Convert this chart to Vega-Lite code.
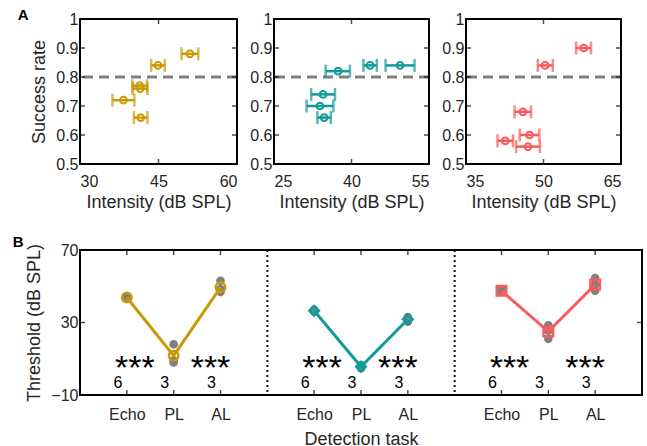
{
  "$schema": "https://vega.github.io/schema/vega-lite/v6.json",
  "padding": {"left": 12, "top": 8, "right": 2, "bottom": 2},
  "config": {
    "font": "Liberation Sans",
    "view": {"stroke": null},
    "axis": {
      "domain": false, "grid": false, "ticks": false,
      "labelFont": "Liberation Sans", "labelFontSize": 16, "labelColor": "#262626", "labelPadding": 2,
      "titleFont": "Liberation Sans", "titleFontSize": 18, "titleFontWeight": "normal", "titleColor": "#262626"
    },
    "tick": {"color": "#000", "thickness": 1.5},
    "title": {"font": "Liberation Sans", "fontSize": 15, "fontWeight": "bold", "color": "#000", "anchor": "start", "frame": "bounds"}
  },
  "datasets": {
    "gold": [
      {"int": 51, "lo": 49.4, "hi": 52.6, "rate": 0.88},
      {"int": 44.9, "lo": 43.6, "hi": 46.2, "rate": 0.84},
      {"int": 41.4, "lo": 40, "hi": 42.8, "rate": 0.77},
      {"int": 41.5, "lo": 40.1, "hi": 42.9, "rate": 0.76},
      {"int": 38.3, "lo": 36.2, "hi": 40.4, "rate": 0.72},
      {"int": 41.6, "lo": 40.3, "hi": 42.9, "rate": 0.66}
    ],
    "teal": [
      {"int": 49.4, "lo": 46.6, "hi": 52.2, "rate": 0.84},
      {"int": 43.6, "lo": 42.3, "hi": 44.9, "rate": 0.84},
      {"int": 37.4, "lo": 35, "hi": 39.7, "rate": 0.82},
      {"int": 34.5, "lo": 32.2, "hi": 36.8, "rate": 0.74},
      {"int": 33.9, "lo": 31.3, "hi": 36.5, "rate": 0.70},
      {"int": 34.7, "lo": 33.4, "hi": 36, "rate": 0.66}
    ],
    "red": [
      {"int": 57.8, "lo": 56.3, "hi": 59.2, "rate": 0.90},
      {"int": 50.3, "lo": 48.9, "hi": 51.8, "rate": 0.84},
      {"int": 46, "lo": 44.4, "hi": 47.6, "rate": 0.68},
      {"int": 47.3, "lo": 45.4, "hi": 49.2, "rate": 0.60},
      {"int": 42.6, "lo": 41.1, "hi": 44.1, "rate": 0.58},
      {"int": 47, "lo": 44.7, "hi": 49.3, "rate": 0.56}
    ],
    "rateTicks": [{"t": 0.6}, {"t": 0.7}, {"t": 0.8}, {"t": 0.9}],
    "means": [
      {"group": "g1", "slot": "Echo|1", "value": 43.8},
      {"group": "g1", "slot": "PL|1", "value": 11.7},
      {"group": "g1", "slot": "AL|1", "value": 49.4},
      {"group": "g2", "slot": "Echo|2", "value": 36.5},
      {"group": "g2", "slot": "PL|2", "value": 5.6},
      {"group": "g2", "slot": "AL|2", "value": 31.8},
      {"group": "g3", "slot": "Echo|3", "value": 47.5},
      {"group": "g3", "slot": "PL|3", "value": 25},
      {"group": "g3", "slot": "AL|3", "value": 51}
    ],
    "indiv": [
      {"slot": "Echo|1", "value": 43.5}, {"slot": "Echo|1", "value": 44}, {"slot": "Echo|1", "value": 44.2},
      {"slot": "Echo|1", "value": 43.6}, {"slot": "Echo|1", "value": 43.9}, {"slot": "Echo|1", "value": 43.8},
      {"slot": "PL|1", "value": 18}, {"slot": "PL|1", "value": 9}, {"slot": "PL|1", "value": 8},
      {"slot": "AL|1", "value": 53}, {"slot": "AL|1", "value": 48.5}, {"slot": "AL|1", "value": 46.8},
      {"slot": "Echo|2", "value": 36.2}, {"slot": "Echo|2", "value": 36.5}, {"slot": "Echo|2", "value": 37},
      {"slot": "Echo|2", "value": 36.8}, {"slot": "Echo|2", "value": 36.3}, {"slot": "Echo|2", "value": 36.4},
      {"slot": "PL|2", "value": 4.8}, {"slot": "PL|2", "value": 5.5}, {"slot": "PL|2", "value": 6.5},
      {"slot": "AL|2", "value": 33}, {"slot": "AL|2", "value": 32}, {"slot": "AL|2", "value": 30.5},
      {"slot": "Echo|3", "value": 47.2}, {"slot": "Echo|3", "value": 47.5}, {"slot": "Echo|3", "value": 47.8},
      {"slot": "Echo|3", "value": 47.4}, {"slot": "Echo|3", "value": 47.6}, {"slot": "Echo|3", "value": 47.5},
      {"slot": "PL|3", "value": 28.5}, {"slot": "PL|3", "value": 25.5}, {"slot": "PL|3", "value": 21},
      {"slot": "AL|3", "value": 54.5}, {"slot": "AL|3", "value": 51}, {"slot": "AL|3", "value": 47.5}
    ],
    "starsA": [{"slot": "Echo|1", "label": "***"}, {"slot": "Echo|2", "label": "***"}, {"slot": "Echo|3", "label": "***"}],
    "starsB": [{"slot": "AL|1", "label": "***"}, {"slot": "AL|2", "label": "***"}, {"slot": "AL|3", "label": "***"}],
    "ns": [
      {"slot": "Echo|1", "n": "6"}, {"slot": "PL|1", "n": "3"}, {"slot": "AL|1", "n": "3"},
      {"slot": "Echo|2", "n": "6"}, {"slot": "PL|2", "n": "3"}, {"slot": "AL|2", "n": "3"},
      {"slot": "Echo|3", "n": "6"}, {"slot": "PL|3", "n": "3"}, {"slot": "AL|3", "n": "3"}
    ],
    "taskTicks": [
      {"slot": "Echo|1"}, {"slot": "PL|1"}, {"slot": "AL|1"},
      {"slot": "Echo|2"}, {"slot": "PL|2"}, {"slot": "AL|2"},
      {"slot": "Echo|3"}, {"slot": "PL|3"}, {"slot": "AL|3"}
    ],
    "dividers": [{"slot": "div|1"}, {"slot": "div|2"}]
  },
  "spacing": 24,
  "vconcat": [
    {
      "spacing": 10,
      "hconcat": [
        {
          "width": 157, "height": 145,
          "title": {"text": "A", "dx": -13, "dy": 12, "offset": 0},
          "data": {"name": "gold"},
          "resolve": {"axis": {"x": "independent", "y": "independent"}},
          "layer": [
            {"data": {"values": [{"criterion": 0.8}]}, "mark": {"type": "rule", "color": "#808080", "strokeWidth": 3, "strokeDash": [10, 6]},
             "encoding": {"y": {"field": "criterion", "type": "quantitative", "axis": null}}},
            {"data": {"values": [{"frame": "box"}]}, "mark": {"type": "rect", "filled": false, "stroke": "#000", "strokeWidth": 2},
             "encoding": {"x": {"datum": 30, "type": "quantitative", "axis": null}, "x2": {"datum": 60}, "y": {"datum": 0.5, "type": "quantitative", "axis": null}, "y2": {"datum": 1}}},
            {"data": {"values": [{"t": 45}]}, "mark": {"type": "tick", "orient": "vertical", "size": 10, "clip": true},
             "encoding": {"x": {"field": "t", "type": "quantitative", "axis": null}, "y": {"datum": 0.5, "type": "quantitative", "axis": null}}},
            {"data": {"values": [{"t": 45}]}, "mark": {"type": "tick", "orient": "vertical", "size": 10, "clip": true},
             "encoding": {"x": {"field": "t", "type": "quantitative", "axis": null}, "y": {"datum": 1, "type": "quantitative", "axis": null}}},
            {"data": {"name": "rateTicks"}, "mark": {"type": "tick", "orient": "horizontal", "size": 10, "clip": true},
             "encoding": {"y": {"field": "t", "type": "quantitative", "axis": null}, "x": {"datum": 30, "type": "quantitative", "axis": null}}},
            {"data": {"name": "rateTicks"}, "mark": {"type": "tick", "orient": "horizontal", "size": 10, "clip": true},
             "encoding": {"y": {"field": "t", "type": "quantitative", "axis": null}, "x": {"datum": 60, "type": "quantitative", "axis": null}}},
            {"mark": {"type": "rule", "color": "#C99A06", "strokeWidth": 2.5},
             "encoding": {"x": {"field": "lo", "type": "quantitative", "axis": null}, "x2": {"field": "hi"}, "y": {"field": "rate", "type": "quantitative", "axis": null}}},
            {"mark": {"type": "tick", "orient": "vertical", "color": "#C99A06", "size": 13, "thickness": 2.5},
             "encoding": {"x": {"field": "lo", "type": "quantitative", "axis": null}, "y": {"field": "rate", "type": "quantitative", "axis": null}}},
            {"mark": {"type": "tick", "orient": "vertical", "color": "#C99A06", "size": 13, "thickness": 2.5},
             "encoding": {"x": {"field": "hi", "type": "quantitative", "axis": null}, "y": {"field": "rate", "type": "quantitative", "axis": null}}},
            {"mark": {"type": "point", "shape": "circle", "filled": false, "color": "#C99A06", "strokeWidth": 2, "size": 45, "opacity": 1},
             "encoding": {
               "x": {"field": "int", "type": "quantitative", "scale": {"domain": [30, 60], "nice": false, "zero": false}, "axis": {"values": [30, 45, 60], "title": "Intensity (dB SPL)", "labelPadding": 9}},
               "y": {"field": "rate", "type": "quantitative", "scale": {"domain": [0.5, 1], "nice": false, "zero": false}, "axis": {"values": [0.5, 0.6, 0.7, 0.8, 0.9, 1], "format": "~g", "title": "Success rate", "titlePadding": 7}}}}
          ]
        },
        {
          "width": 155, "height": 145,
          "data": {"name": "teal"},
          "resolve": {"axis": {"x": "independent", "y": "independent"}},
          "layer": [
            {"data": {"values": [{"criterion": 0.8}]}, "mark": {"type": "rule", "color": "#808080", "strokeWidth": 3, "strokeDash": [10, 6]},
             "encoding": {"y": {"field": "criterion", "type": "quantitative", "axis": null}}},
            {"data": {"values": [{"frame": "box"}]}, "mark": {"type": "rect", "filled": false, "stroke": "#000", "strokeWidth": 2},
             "encoding": {"x": {"datum": 25, "type": "quantitative", "axis": null}, "x2": {"datum": 55}, "y": {"datum": 0.5, "type": "quantitative", "axis": null}, "y2": {"datum": 1}}},
            {"data": {"values": [{"t": 40}]}, "mark": {"type": "tick", "orient": "vertical", "size": 10, "clip": true},
             "encoding": {"x": {"field": "t", "type": "quantitative", "axis": null}, "y": {"datum": 0.5, "type": "quantitative", "axis": null}}},
            {"data": {"values": [{"t": 40}]}, "mark": {"type": "tick", "orient": "vertical", "size": 10, "clip": true},
             "encoding": {"x": {"field": "t", "type": "quantitative", "axis": null}, "y": {"datum": 1, "type": "quantitative", "axis": null}}},
            {"data": {"name": "rateTicks"}, "mark": {"type": "tick", "orient": "horizontal", "size": 10, "clip": true},
             "encoding": {"y": {"field": "t", "type": "quantitative", "axis": null}, "x": {"datum": 25, "type": "quantitative", "axis": null}}},
            {"data": {"name": "rateTicks"}, "mark": {"type": "tick", "orient": "horizontal", "size": 10, "clip": true},
             "encoding": {"y": {"field": "t", "type": "quantitative", "axis": null}, "x": {"datum": 55, "type": "quantitative", "axis": null}}},
            {"mark": {"type": "rule", "color": "#109A9A", "strokeWidth": 2.5},
             "encoding": {"x": {"field": "lo", "type": "quantitative", "axis": null}, "x2": {"field": "hi"}, "y": {"field": "rate", "type": "quantitative", "axis": null}}},
            {"mark": {"type": "tick", "orient": "vertical", "color": "#109A9A", "size": 13, "thickness": 2.5},
             "encoding": {"x": {"field": "lo", "type": "quantitative", "axis": null}, "y": {"field": "rate", "type": "quantitative", "axis": null}}},
            {"mark": {"type": "tick", "orient": "vertical", "color": "#109A9A", "size": 13, "thickness": 2.5},
             "encoding": {"x": {"field": "hi", "type": "quantitative", "axis": null}, "y": {"field": "rate", "type": "quantitative", "axis": null}}},
            {"mark": {"type": "point", "shape": "circle", "filled": false, "color": "#109A9A", "strokeWidth": 2, "size": 45, "opacity": 1},
             "encoding": {
               "x": {"field": "int", "type": "quantitative", "scale": {"domain": [25, 55], "nice": false, "zero": false}, "axis": {"values": [25, 40, 55], "title": "Intensity (dB SPL)", "labelPadding": 9}},
               "y": {"field": "rate", "type": "quantitative", "scale": {"domain": [0.5, 1], "nice": false, "zero": false}, "axis": {"values": [0.5, 0.6, 0.7, 0.8, 0.9, 1], "format": "~g", "title": null}}}}
          ]
        },
        {
          "width": 155, "height": 145,
          "data": {"name": "red"},
          "resolve": {"axis": {"x": "independent", "y": "independent"}},
          "layer": [
            {"data": {"values": [{"criterion": 0.8}]}, "mark": {"type": "rule", "color": "#808080", "strokeWidth": 3, "strokeDash": [10, 6]},
             "encoding": {"y": {"field": "criterion", "type": "quantitative", "axis": null}}},
            {"data": {"values": [{"frame": "box"}]}, "mark": {"type": "rect", "filled": false, "stroke": "#000", "strokeWidth": 2},
             "encoding": {"x": {"datum": 35, "type": "quantitative", "axis": null}, "x2": {"datum": 65}, "y": {"datum": 0.5, "type": "quantitative", "axis": null}, "y2": {"datum": 1}}},
            {"data": {"values": [{"t": 50}]}, "mark": {"type": "tick", "orient": "vertical", "size": 10, "clip": true},
             "encoding": {"x": {"field": "t", "type": "quantitative", "axis": null}, "y": {"datum": 0.5, "type": "quantitative", "axis": null}}},
            {"data": {"values": [{"t": 50}]}, "mark": {"type": "tick", "orient": "vertical", "size": 10, "clip": true},
             "encoding": {"x": {"field": "t", "type": "quantitative", "axis": null}, "y": {"datum": 1, "type": "quantitative", "axis": null}}},
            {"data": {"name": "rateTicks"}, "mark": {"type": "tick", "orient": "horizontal", "size": 10, "clip": true},
             "encoding": {"y": {"field": "t", "type": "quantitative", "axis": null}, "x": {"datum": 35, "type": "quantitative", "axis": null}}},
            {"data": {"name": "rateTicks"}, "mark": {"type": "tick", "orient": "horizontal", "size": 10, "clip": true},
             "encoding": {"y": {"field": "t", "type": "quantitative", "axis": null}, "x": {"datum": 65, "type": "quantitative", "axis": null}}},
            {"mark": {"type": "rule", "color": "#FA5A5A", "strokeWidth": 2.5},
             "encoding": {"x": {"field": "lo", "type": "quantitative", "axis": null}, "x2": {"field": "hi"}, "y": {"field": "rate", "type": "quantitative", "axis": null}}},
            {"mark": {"type": "tick", "orient": "vertical", "color": "#FA5A5A", "size": 13, "thickness": 2.5},
             "encoding": {"x": {"field": "lo", "type": "quantitative", "axis": null}, "y": {"field": "rate", "type": "quantitative", "axis": null}}},
            {"mark": {"type": "tick", "orient": "vertical", "color": "#FA5A5A", "size": 13, "thickness": 2.5},
             "encoding": {"x": {"field": "hi", "type": "quantitative", "axis": null}, "y": {"field": "rate", "type": "quantitative", "axis": null}}},
            {"mark": {"type": "point", "shape": "circle", "filled": false, "color": "#FA5A5A", "strokeWidth": 2, "size": 45, "opacity": 1},
             "encoding": {
               "x": {"field": "int", "type": "quantitative", "scale": {"domain": [35, 65], "nice": false, "zero": false}, "axis": {"values": [35, 50, 65], "title": "Intensity (dB SPL)", "labelPadding": 9}},
               "y": {"field": "rate", "type": "quantitative", "scale": {"domain": [0.5, 1], "nice": false, "zero": false}, "axis": {"values": [0.5, 0.6, 0.7, 0.8, 0.9, 1], "format": "~g", "title": null}}}}
          ]
        }
      ]
    },
    {
      "width": 562, "height": 145,
      "title": {"text": "B", "dx": -13, "dy": 8, "offset": 0},
      "resolve": {"axis": {"x": "independent", "y": "independent"}},
      "layer": [
        {"data": {"values": [{"frame": "box"}]}, "mark": {"type": "rect", "filled": false, "stroke": "#000", "strokeWidth": 2},
         "encoding": {"x": {"datum": "edgeL", "type": "nominal", "axis": null}, "x2": {"datum": "edgeR"}, "y": {"datum": -10, "type": "quantitative", "axis": null}, "y2": {"datum": 70}}},
        {"data": {"name": "taskTicks"}, "mark": {"type": "tick", "orient": "vertical", "size": 10, "clip": true},
         "encoding": {"x": {"field": "slot", "type": "nominal", "axis": null}, "y": {"datum": -10, "type": "quantitative", "axis": null}}},
        {"data": {"name": "taskTicks"}, "mark": {"type": "tick", "orient": "vertical", "size": 10, "clip": true},
         "encoding": {"x": {"field": "slot", "type": "nominal", "axis": null}, "y": {"datum": 70, "type": "quantitative", "axis": null}}},
        {"data": {"values": [{"t": 30}]}, "mark": {"type": "tick", "orient": "horizontal", "size": 10, "clip": true},
         "encoding": {"y": {"field": "t", "type": "quantitative", "axis": null}, "x": {"datum": "edgeL", "type": "nominal", "axis": null}}},
        {"data": {"values": [{"t": 30}]}, "mark": {"type": "tick", "orient": "horizontal", "size": 10, "clip": true},
         "encoding": {"y": {"field": "t", "type": "quantitative", "axis": null}, "x": {"datum": "edgeR", "type": "nominal", "axis": null}}},
        {"data": {"name": "dividers"}, "mark": {"type": "rule", "color": "#111", "strokeWidth": 2, "strokeDash": [2, 3]},
         "encoding": {"x": {"field": "slot", "type": "nominal", "axis": null}}},
        {"data": {"name": "indiv"}, "mark": {"type": "point", "shape": "circle", "filled": true, "color": "#808080", "size": 75, "opacity": 1},
         "encoding": {"x": {"field": "slot", "type": "nominal", "axis": null}, "y": {"field": "value", "type": "quantitative", "axis": null}}},
        {"data": {"name": "means"}, "mark": {"type": "line", "strokeWidth": 3},
         "encoding": {"x": {"field": "slot", "type": "nominal", "axis": null, "sort": null}, "y": {"field": "value", "type": "quantitative", "axis": null},
                      "color": {"field": "group", "type": "nominal", "scale": {"domain": ["g1", "g2", "g3"], "range": ["#C99A06", "#109A9A", "#FA5A5A"]}, "legend": null},
                      "detail": {"field": "group"}}},
        {"data": {"name": "means"}, "mark": {"type": "point", "filled": false, "strokeWidth": 2.5, "size": 90, "opacity": 1},
         "encoding": {"x": {"field": "slot", "type": "nominal", "axis": null}, "y": {"field": "value", "type": "quantitative", "axis": null},
                      "color": {"field": "group", "type": "nominal", "legend": null},
                      "shape": {"field": "group", "type": "nominal", "scale": {"domain": ["g1", "g2", "g3"], "range": ["circle", "diamond", "square"]}, "legend": null}}},
        {"data": {"name": "starsA"}, "mark": {"type": "text", "fontSize": 34, "color": "#000", "dx": 8, "baseline": "alphabetic", "align": "center"},
         "encoding": {"x": {"field": "slot", "type": "nominal", "axis": null}, "y": {"datum": -1.3, "type": "quantitative", "axis": null}, "text": {"field": "label"}}},
        {"data": {"name": "starsB"}, "mark": {"type": "text", "fontSize": 34, "color": "#000", "dx": -10, "baseline": "alphabetic", "align": "center"},
         "encoding": {"x": {"field": "slot", "type": "nominal", "axis": null}, "y": {"datum": -1.3, "type": "quantitative", "axis": null}, "text": {"field": "label"}}},
        {"data": {"name": "ns"}, "mark": {"type": "text", "fontSize": 16, "color": "#000", "dx": -9, "baseline": "alphabetic", "align": "center"},
         "encoding": {"x": {"field": "slot", "type": "nominal", "axis": null}, "y": {"datum": -6, "type": "quantitative", "axis": null}, "text": {"field": "n"}}},
        {"data": {"name": "means"}, "mark": {"type": "point", "opacity": 0},
         "encoding": {
           "x": {"field": "slot", "type": "nominal",
                 "scale": {"type": "point", "padding": 0, "domain": ["edgeL", "Echo|1", "PL|1", "AL|1", "div|1", "Echo|2", "PL|2", "AL|2", "div|2", "Echo|3", "PL|3", "AL|3", "edgeR"]},
                 "axis": {"values": ["Echo|1", "PL|1", "AL|1", "Echo|2", "PL|2", "AL|2", "Echo|3", "PL|3", "AL|3"], "labelExpr": "split(datum.label, '|')[0]", "labelAngle": 0, "labelPadding": 11, "title": "Detection task", "titlePadding": 8}},
           "y": {"field": "value", "type": "quantitative", "scale": {"domain": [-10, 70], "nice": false, "zero": false},
                 "axis": {"values": [-10, 30, 70], "title": "Threshold (dB SPL)", "titlePadding": 7}}}}
      ]
    }
  ]
}
